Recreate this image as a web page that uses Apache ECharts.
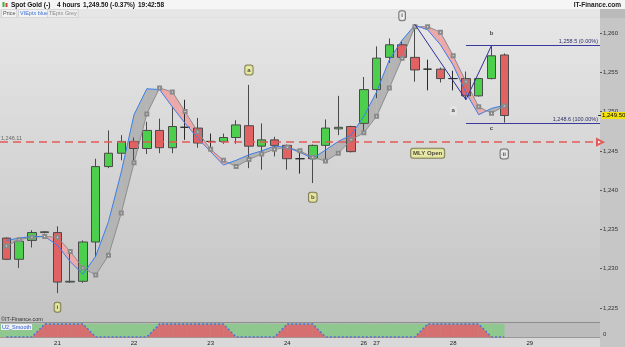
<!DOCTYPE html>
<html><head><meta charset="utf-8">
<script src="https://cdn.jsdelivr.net/npm/echarts@6/dist/echarts.min.js"></script>
<style>html,body{margin:0;padding:0;background:#c6c6c6}#c{width:625px;height:347px}</style>
</head><body><div id="c"></div>
<script>
const categories = ['20 08','20 12','20 16','20 20',
 '21 00','21 04','21 08','21 12','21 16','21 20',
 '22 00','22 04','22 08','22 12','22 16','22 20',
 '23 00','23 04','23 08','23 12','23 16','23 20',
 '24 00','24 04','24 08','24 12','24 16','24 20',
 '26 20',
 '27 00','27 04','27 08','27 12','27 16','27 20',
 '28 00','28 04','28 08','28 12','28 16','28 20',
 '29 00','29 04','29 08','29 12','29 16','29 20'];
const open  = [1233.9,1231.2,1233.6,1234.6,1234.6,1228.3,1228.4,1233.4,1243.0,1244.7,1246.2,1245.3,1247.6,1245.4,1248.0,1247.9,1246.2,1246.2,1246.7,1248.2,1245.6,1246.4,1245.7,1244.0,1244.0,1245.7,1247.8,1248.1,1248.5,1252.8,1256.9,1258.5,1256.9,1255.4,1255.4,1254.2,1254.2,1252.0,1254.2,1257.2];
const close = [1231.2,1233.5,1234.6,1234.7,1228.3,1228.4,1233.4,1243.0,1244.7,1246.2,1245.3,1247.6,1245.4,1248.1,1248.0,1246.0,1246.2,1246.7,1248.3,1245.6,1246.4,1245.7,1244.0,1244.0,1245.7,1247.9,1248.0,1244.9,1252.8,1256.8,1258.5,1256.9,1255.3,1255.4,1254.2,1254.2,1252.0,1254.2,1257.1,1249.5];
const low   = [1231.1,1230.1,1232.7,1234.5,1226.9,1228.2,1228.2,1231.5,1242.8,1243.8,1243.8,1244.6,1244.7,1244.7,1246.4,1245.4,1244.9,1245.9,1245.9,1242.8,1242.6,1244.3,1242.6,1242.1,1240.9,1243.8,1247.0,1244.8,1247.2,1251.7,1256.2,1256.9,1253.8,1252.7,1253.7,1252.7,1251.5,1251.9,1254.1,1248.6];
const high  = [1234.0,1233.9,1234.9,1234.8,1235.4,1232.4,1233.6,1244.0,1247.6,1247.0,1246.7,1248.7,1249.1,1250.6,1251.5,1249.2,1247.2,1247.2,1248.9,1253.4,1248.5,1246.8,1245.8,1245.1,1245.8,1249.0,1252.0,1248.2,1254.4,1258.3,1259.3,1258.9,1261.1,1256.6,1255.6,1255.2,1255.1,1254.3,1258.4,1257.4];
const blueMA = [1233.6,1233.9,1234.1,1234.1,1233.0,1230.9,1229.3,1231.6,1236.0,1242.3,1249.6,1252.9,1252.8,1250.6,1248.5,1246.6,1244.9,1243.2,1243.8,1244.5,1245.0,1245.6,1245.45,1244.8,1244.05,1245.1,1246.2,1247.0,1249.4,1252.5,1256.6,1259.1,1261.0,1260.4,1258.5,1255.9,1252.4,1249.6,1250.4,1250.8];
const grayMA = [1232.9,1233.7,1234.0,1234.1,1234.0,1232.2,1230.1,1229.2,1231.7,1237.1,1243.5,1249.7,1253.0,1252.5,1250.0,1247.4,1245.2,1243.8,1243.0,1243.9,1244.6,1245.2,1245.45,1245.0,1244.2,1243.7,1244.7,1246.4,1247.3,1249.4,1253.0,1256.8,1260.8,1260.8,1260.1,1257.1,1253.8,1250.6,1249.8,1250.7];
const u2Smooth = [0,0,0,1,1,1,1,0,0,0,0,0,1,1,1,1,1,1,0,0,0,0,1,1,1,0,0,0,0,0,0,0,0,1,1,1,1,1,0,0];
const yTicks = [1225,1230,1235,1240,1245,1250,1255,1260];
const mlyOpen = 1246.11;
const lastPrice = 1249.50;
const fibStart = 36;
const fibLevels = [1258.5, 1248.6];
const fibTexts = ['1,258.5 (0.00%)','1,248.6 (100.00%)'];
const zigIdx = [32, 36, 38];
const zigVal = [1261.1, 1251.5, 1258.4];
const annText = ['i','a','b','i','a','b','c','ii','MLY Open'];
const annIdx  = [4,19,24,31,35,38,38,39,33];
const annVal  = [1225.1,1255.3,1239.1,1262.2,1250.1,1260.0,1247.9,1244.6,1244.7];
const annKind = ['tag','tag','tag','wave','note','plain','plain','wave','tag'];

const FF = '"Liberation Sans", Arial, sans-serif';
const fmt = (v, d) => v.toLocaleString('en-US', {minimumFractionDigits: d, maximumFractionDigits: d});
const chart = echarts.init(document.getElementById('c'), null, {renderer: 'canvas'});

const kindStyle = {
  tag:   {backgroundColor:'#eeee9c', borderColor:'#6a6a3a', borderWidth:1, borderRadius:2},
  wave:  {backgroundColor:'#f3f3f3', borderColor:'#555', borderWidth:1, borderRadius:2},
  note:  {backgroundColor:'#e6e6e6'},
  plain: {}
};

function ribbonItem(params, api) {
  const i = api.value(0);
  const b0 = blueMA[i], b1 = blueMA[i+1], g0 = grayMA[i], g1 = grayMA[i+1];
  const pb0 = api.coord([i, b0]), pb1 = api.coord([i+1, b1]);
  const pg0 = api.coord([i, g0]), pg1 = api.coord([i+1, g1]);
  const d0 = b0 - g0, d1 = b1 - g1;
  const fill = d => d >= 0 ? '#b4b4b4' : '#eda9a9';
  const poly = (pts, d) => ({type:'polygon', shape:{points:pts}, style:{fill:fill(d), stroke:fill(d), lineWidth:0.3}});
  const ch = [];
  if (d0 * d1 < 0) {
    const t = d0 / (d0 - d1);
    const c = [pb0[0] + t*(pb1[0]-pb0[0]), pb0[1] + t*(pb1[1]-pb0[1])];
    ch.push(poly([pb0, c, pg0], d0));
    ch.push(poly([c, pb1, pg1], d1));
  } else {
    ch.push(poly([pb0, pb1, pg1, pg0], d0 + d1));
  }
  return {type:'group', children:ch};
}

function u2Item(params, api) {
  const i = api.value(0);
  const p0 = api.coord([i, u2Smooth[i]]), p1 = api.coord([i+1, u2Smooth[i+1]]);
  const b0 = api.coord([i, 0]), b1 = api.coord([i+1, 0]);
  const t0 = api.coord([i, 1]), t1 = api.coord([i+1, 1]);
  const red = '#d67070', green = '#8fc88f';
  const P = (pts, c) => ({type:'polygon', shape:{points:pts}, style:{fill:c, stroke:c, lineWidth:0.4}});
  const ch = [P([p0,p1,b1,b0], red), P([t0,t1,p1,p0], green)];
  if (i === 0) {
    const x0 = params.coordSys.x;
    ch.push(P([[x0,p0[1]],p0,b0,[x0,b0[1]]], red));
    ch.push(P([[x0,t0[1]],t0,p0,[x0,p0[1]]], green));
  }
  return {type:'group', children:ch};
}

function fibItem(params, api) {
  const k = api.value(2);
  const s = api.coord([api.value(0), api.value(1)]);
  const right = params.coordSys.x + params.coordSys.width;
  const y = Math.round(s[1]) + 0.5;
  return {type:'group', children:[
    {type:'line', shape:{x1:s[0], y1:y, x2:right, y2:y}, style:{stroke:'#3a3a9c', lineWidth:1}},
    {type:'text', style:{text:fibTexts[k], x:right-2, y:y-1, align:'right', verticalAlign:'bottom', fontSize:5.5, fontFamily:FF, fill:'#2e2e66'}}
  ]};
}

const option = {
  animation: false,
  backgroundColor: '#c6c6c6',
  grid: [
    {left:0, width:600, top:17.29, height:306.43, show:true, borderWidth:0, outerBoundsMode:'none',
     backgroundColor: new echarts.graphic.LinearGradient(0,0,0,1,[{offset:0,color:'#e6e6e6'},{offset:1,color:'#c3c3c3'}])},
    {left:0, width:600, top:323, height:14, show:true, borderWidth:0, backgroundColor:'#bcbcbc', outerBoundsMode:'none'}
  ],
  xAxis: [
    {type:'category', gridIndex:0, data:categories, boundaryGap:true, show:false},
    {type:'category', gridIndex:1, data:categories, boundaryGap:true,
     axisLine:{show:true, lineStyle:{color:'#9a9a9a', width:1}}, axisTick:{show:false},
     axisLabel:{interval:(i, v) => i > 0 && v.slice(0,2) !== categories[i-1].slice(0,2),
       formatter: v => v.slice(0,2), fontSize:6, fontFamily:FF, color:'#222', margin:3}}
  ],
  yAxis: [
    {type:'value', gridIndex:0, position:'right', min:1223, max:1262, scale:true,
     splitLine:{show:false}, axisLine:{show:false},
     axisTick:{show:true, length:2, lineStyle:{color:'#555'}, customValues:yTicks},
     axisLabel:{customValues:yTicks, formatter: v => fmt(v,0), fontSize:6, fontFamily:FF, color:'#333', margin:3}},
    {type:'value', gridIndex:1, position:'right', min:0, max:1.08, interval:1,
     splitLine:{show:false}, axisLine:{show:false}, axisTick:{show:false},
     axisLabel:{formatter: v => v === 0 ? '0' : '', fontSize:6, fontFamily:FF, color:'#333', margin:3, verticalAlign:'bottom'}}
  ],
  series: [
    {type:'custom', name:'band', xAxisIndex:0, yAxisIndex:0, z:1, silent:true,
     data: blueMA.slice(0, -1).map((_, i) => [i]), renderItem: ribbonItem},
    {type:'candlestick', xAxisIndex:0, yAxisIndex:0, z:3, barWidth:9,
     data: open.map((o, i) => [o, close[i], low[i], high[i]]),
     itemStyle:{color:'#4ccf4c', color0:'#e06262', borderColor:'#4a4a4a', borderColor0:'#4a4a4a', borderColorDoji:'#2a2a2a', borderWidth:1}},
    {type:'line', name:'TEptx Grey', xAxisIndex:0, yAxisIndex:0, z:4, data:grayMA,
     symbol:'emptyRect', symbolSize:3, showAllSymbol:true,
     itemStyle:{color:'#8a8a8a'}, lineStyle:{color:'#8e8e8e', width:1}},
    {type:'line', name:'VIEptx blue', xAxisIndex:0, yAxisIndex:0, z:4, data:blueMA,
     symbol:'none', lineStyle:{color:'#3c7fea', width:1}},
    {type:'line', name:'zigzag', xAxisIndex:0, yAxisIndex:0, z:5,
     data: zigIdx.map((x, i) => [x, zigVal[i]]), symbol:'none',
     lineStyle:{color:'#30309c', width:1},
     markLine:{silent:true, symbol:['none','emptyTriangle'], symbolSize:[6,6],
       data:[{yAxis:mlyOpen}],
       lineStyle:{color:'#e35a5a', type:[8,5], width:1.6},
       label:{show:true, position:'insideStartTop', distance:[1,1], formatter: () => fmt(mlyOpen,2),
         fontSize:5.5, fontFamily:FF, color:'#666'}}},
    {type:'line', name:'last', xAxisIndex:0, yAxisIndex:0, z:20, data:[], symbol:'none',
     markLine:{silent:true, symbol:'none',
       data:[{yAxis:lastPrice}],
       lineStyle:{color:'rgba(0,0,0,0)', width:1},
       label:{show:true, position:'end', distance:1, formatter: () => fmt(lastPrice,2),
         backgroundColor:'#f2e20c', color:'#000', fontSize:6, fontFamily:FF, padding:[1,1,0,1]}}},
    {type:'custom', name:'fib', xAxisIndex:0, yAxisIndex:0, z:6, silent:true,
     data: fibLevels.map((v, k) => [fibStart, v, k]), renderItem: fibItem},
    {type:'scatter', name:'labels', xAxisIndex:0, yAxisIndex:0, z:10, clip:false, silent:true,
     symbolSize:1, itemStyle:{color:'rgba(0,0,0,0)'},
     data: annText.map((t, k) => ({value:[annIdx[k], annVal[k]],
       label: Object.assign({show:true, position:'inside', formatter:t, fontSize:6, fontWeight:'bold',
         fontFamily:FF, color:'#1a1a1a', padding:[2,2,1,2]}, kindStyle[annKind[k]])}))},
    {type:'custom', name:'U2_Smooth', xAxisIndex:1, yAxisIndex:1, z:1, silent:true,
     data: u2Smooth.slice(0, -1).map((_, i) => [i]), renderItem: u2Item},
    {type:'line', xAxisIndex:1, yAxisIndex:1, z:3, data:u2Smooth, symbol:'none',
     lineStyle:{color:'#4a6ee0', width:1.4, type:[2,2]}}
  ],
  graphic: [
    {type:'rect', z:-10, shape:{x:0, y:0, width:625, height:9}, style:{fill:'#f5f5f5'}},
    {type:'rect', z:-10, shape:{x:0, y:9, width:600, height:8.3}, style:{fill:'#e6e6e6'}},
    {type:'rect', z:-10, shape:{x:600, y:9, width:25, height:9}, style:{fill:'#bababa'}},
    {type:'rect', z:-10, shape:{x:0, y:337, width:600, height:10}, style:{fill:'#d9d9d9'}},
    {type:'line', z:5, shape:{x1:0, y1:322.5, x2:600, y2:322.5}, style:{stroke:'#8e8e8e', lineWidth:1}},
    {type:'line', z:5, shape:{x1:598, y1:115.5, x2:601, y2:115.5}, style:{stroke:'#333', lineWidth:1}},
    {type:'rect', z:5, shape:{x:2.5, y:2, width:2, height:5}, style:{fill:'#3cb43c'}},
    {type:'rect', z:5, shape:{x:5.5, y:3, width:2, height:4}, style:{fill:'#d04040'}},
    {type:'text', z:5, style:{text:'Spot Gold (-)', x:11, y:5, verticalAlign:'middle', fontSize:6.5, fontWeight:'bold', fontFamily:FF, fill:'#111'}},
    {type:'text', z:5, style:{text:'4 hours', x:57, y:5, verticalAlign:'middle', fontSize:6.5, fontWeight:'bold', fontFamily:FF, fill:'#111'}},
    {type:'text', z:5, style:{text:'1,249.50 (-0.37%)', x:83, y:5, verticalAlign:'middle', fontSize:6.5, fontWeight:'bold', fontFamily:FF, fill:'#111'}},
    {type:'text', z:5, style:{text:'19:42:58', x:138, y:5, verticalAlign:'middle', fontSize:6.5, fontWeight:'bold', fontFamily:FF, fill:'#111'}},
    {type:'text', z:5, style:{text:'IT-Finance.com', x:621, y:5, align:'right', verticalAlign:'middle', fontSize:6.5, fontWeight:'bold', fontFamily:FF, fill:'#222'}},
    {type:'text', z:5, style:{text:'Price', x:2, y:13.5, verticalAlign:'middle', fontSize:5.5, fontFamily:FF, fill:'#555', backgroundColor:'#f2f2f2', borderColor:'#bdbdbd', borderWidth:0.5, padding:[1,1]}},
    {type:'text', z:5, style:{text:'VIEptx blue', x:19, y:13.5, verticalAlign:'middle', fontSize:5.5, fontFamily:FF, fill:'#3a6fd8', backgroundColor:'#f2f2f2', borderColor:'#bdbdbd', borderWidth:0.5, padding:[1,1]}},
    {type:'text', z:5, style:{text:'TEptx Grey', x:48, y:13.5, verticalAlign:'middle', fontSize:5.5, fontFamily:FF, fill:'#8a8a8a', backgroundColor:'#ececec', borderColor:'#bdbdbd', borderWidth:0.5, padding:[1,1]}},
    {type:'text', z:5, style:{text:'\u00A9IT-Finance.com', x:1, y:319, verticalAlign:'middle', fontSize:5.5, fontFamily:FF, fill:'#333'}},
    {type:'text', z:6, style:{text:'U2_Smooth', x:1, y:327, verticalAlign:'middle', fontSize:5.5, fontFamily:FF, fill:'#2f5bd0', backgroundColor:'#eef0f4', padding:[0,1]}}
  ]
};
chart.setOption(option);
</script></body></html>
